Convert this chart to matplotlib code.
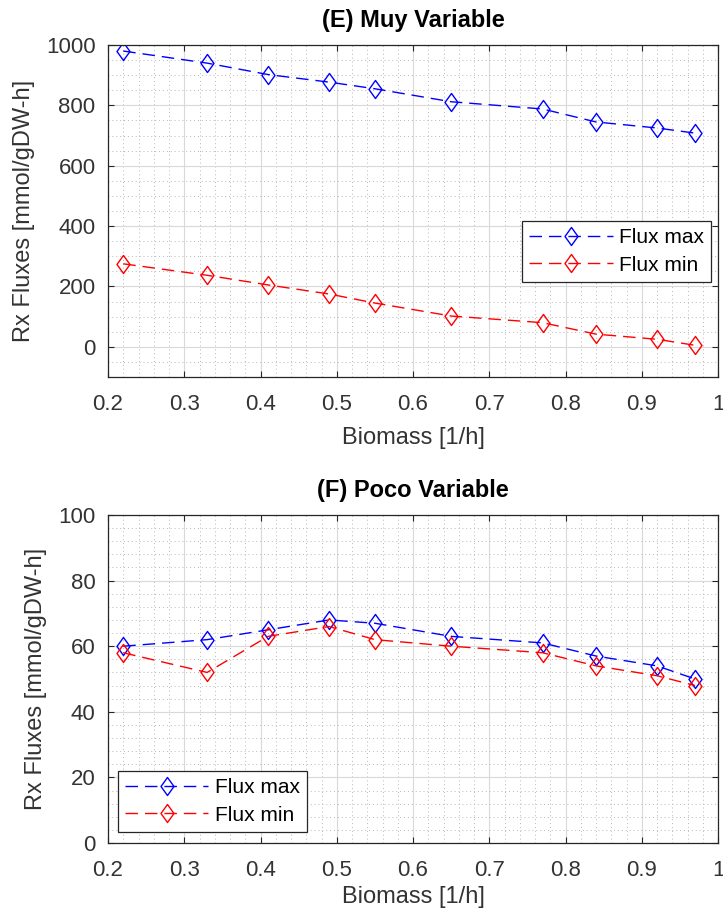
import matplotlib
matplotlib.use("Agg")
import matplotlib.pyplot as plt
from matplotlib.ticker import MultipleLocator, FormatStrFormatter
from matplotlib.path import Path

plt.rcParams['font.family'] = ['Liberation Sans', 'DejaVu Sans']

# data
biomass = [0.22, 0.33, 0.41, 0.49, 0.55, 0.65, 0.77, 0.84, 0.92, 0.97]
muy_max = [980, 940, 902, 877, 855, 812, 788, 745, 725, 708]
muy_min = [275, 237, 205, 175, 145, 102, 80, 42, 25, 5]
poco_max = [60, 62, 65, 68, 67, 63, 61, 57, 54, 50]
poco_min = [58, 52, 63, 66, 62, 60, 58, 54, 51, 48]

titles = ["(E) Muy Variable", "(F) Poco Variable"]
xlabel = "Biomass [1/h]"
ylabel = "Rx Fluxes [mmol/gDW-h]"
legend_labels = ["Flux max", "Flux min"]

# MATLAB-like diamond (a bit wider than matplotlib's thin 'd')
diamond = Path([(0, 1), (0.72, 0), (0, -1), (-0.72, 0), (0, 1)],
               [Path.MOVETO, Path.LINETO, Path.LINETO, Path.LINETO, Path.CLOSEPOLY])

fig = plt.figure(figsize=(7.23, 9.13), dpi=100)
W, H = 723, 913
ax1 = fig.add_axes([108 / W, 1 - 377 / H, 610 / W, 332 / H])
ax2 = fig.add_axes([108 / W, 1 - 843 / H, 610 / W, 328 / H])

def style(ax, ylim, ymaj, ymin, xpad):
    ax.set_xlim(0.2, 1.0)
    ax.set_ylim(*ylim)
    ax.xaxis.set_major_locator(MultipleLocator(0.1))
    ax.xaxis.set_minor_locator(MultipleLocator(0.02))
    ax.xaxis.set_major_formatter(FormatStrFormatter('%g'))
    ax.yaxis.set_major_locator(MultipleLocator(ymaj))
    ax.yaxis.set_minor_locator(MultipleLocator(ymin))
    ax.grid(which='major', color='#d9d9d9', linewidth=0.8)
    ax.grid(which='minor', color='#b8b8b8', linestyle=(0, (1, 3)), linewidth=0.7)
    ax.set_axisbelow(True)
    ax.tick_params(which='both', direction='in', top=True, right=True,
                   labelsize=16, labelcolor='#333333', color='#262626', length=4)
    ax.tick_params(axis='x', pad=12)
    ax.tick_params(axis='y', pad=9)
    ax.tick_params(which='minor', length=0)
    for s in ax.spines.values():
        s.set_color('#262626')
        s.set_linewidth(0.9)
    ax.set_xlabel(xlabel, fontsize=17, color='#333333', labelpad=xpad)
    ax.set_ylabel(ylabel, fontsize=17, color='#333333', labelpad=8)

def draw(ax, ymax, ymin_, title, legend_kw):
    ax.plot(biomass, ymax, color='blue', linestyle='--', dashes=(9, 5),
            linewidth=1.0, marker=diamond, markersize=13, markerfacecolor='none',
            markeredgecolor='blue', markeredgewidth=1.0, label=legend_labels[0])
    ax.plot(biomass, ymin_, color='red', linestyle='--', dashes=(9, 5),
            linewidth=1.0, marker=diamond, markersize=13, markerfacecolor='none',
            markeredgecolor='red', markeredgewidth=1.0, label=legend_labels[1])
    ax.set_title(title, fontsize=17, fontweight='bold', pad=13)
    leg = ax.legend(fontsize=15, handlelength=4.0, fancybox=False,
                    edgecolor='#262626', framealpha=1, borderpad=0.35,
                    labelspacing=0.4, handletextpad=0.3, borderaxespad=0,
                    **legend_kw)
    leg.get_frame().set_linewidth(0.9)

style(ax1, (-100, 1000), 200, 50, 9)
draw(ax1, muy_max, muy_min, titles[0],
     dict(loc='lower right', bbox_to_anchor=(0.989, 0.286)))

style(ax2, (0, 100), 20, 4, 4)
draw(ax2, poco_max, poco_min, titles[1],
     dict(loc='lower left', bbox_to_anchor=(0.016, 0.034)))

fig.savefig("out.png", dpi=100)
